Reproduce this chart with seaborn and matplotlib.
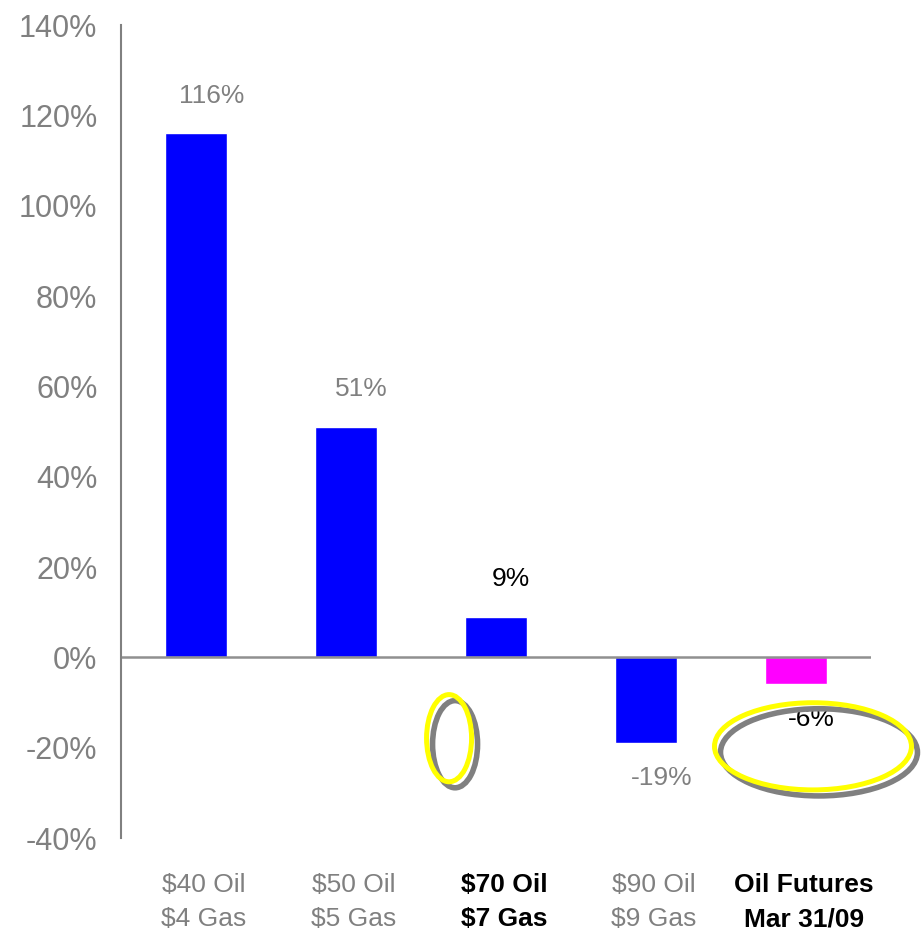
import numpy as np
import pandas as pd
import matplotlib
matplotlib.use("Agg")
import matplotlib.pyplot as plt
import matplotlib.transforms as mtransforms
from matplotlib.patches import Ellipse
import seaborn as sns

# data
line1 = ["$40 Oil", "$50 Oil", "$70 Oil", "$90 Oil", "Oil Futures"]
line2 = ["$4 Gas", "$5 Gas", "$7 Gas", "$9 Gas", "Mar 31/09"]
values = [116, 51, 9, -19, -6]
bar_colors = ["#0000FF", "#0000FF", "#0000FF", "#0000FF", "#FF00FF"]
highlight = [False, False, True, False, True]
yticks = [-40, -20, 0, 20, 40, 60, 80, 100, 120, 140]

categories = [a + "\n" + b for a, b in zip(line1, line2)]
df = pd.DataFrame({"scenario": categories, "change": values})

sns.set_style("white")
plt.rcParams["font.family"] = ["Liberation Sans", "DejaVu Sans"]

fig = plt.figure(figsize=(9.23, 9.33), dpi=100)
ax = fig.add_axes([0.1311, 0.1018, 0.8126, 0.8714])

sns.barplot(
    data=df,
    x="scenario",
    y="change",
    hue="scenario",
    palette=bar_colors,
    width=0.41,
    legend=False,
    saturation=1,
    ax=ax,
)

ax.set_xlim(-0.5, 4.5)
ax.set_ylim(-40, 140)
ax.set_yticks(yticks)
ax.set_yticklabels([f"{t}%" for t in yticks], fontsize=22, color="#808080")
ax.tick_params(axis="y", length=0, pad=17)
ax.tick_params(axis="x", length=0, pad=25)
ax.set_xlabel("")
ax.set_ylabel("")

# category labels sit a little right of the bar centres
shift = mtransforms.ScaledTranslation(8 / 100, 0, fig.dpi_scale_trans)
for lab, hl in zip(ax.get_xticklabels(), highlight):
    lab.set_fontsize(19)
    lab.set_linespacing(1.55)
    lab.set_transform(lab.get_transform() + shift)
    if hl:
        lab.set_fontweight("bold")
        lab.set_color("black")
    else:
        lab.set_color("#808080")

for s in ["top", "right", "bottom"]:
    ax.spines[s].set_visible(False)
ax.spines["left"].set_color("#808080")
ax.spines["left"].set_linewidth(1.5)
ax.axhline(0, color="#909090", lw=1.8, zorder=1)

# value labels
for i, (v, hl) in enumerate(zip(values, highlight)):
    off = 27 if v >= 0 else -25
    ax.annotate(
        f"{v}%",
        (i, v),
        xytext=(11, off),
        textcoords="offset points",
        ha="center",
        va="center",
        fontsize=19,
        color="black" if hl else "#808080",
        zorder=3,
    )

# highlight ellipses with drop shadow
ellipses = [(1.687, -17.9, 0.30, 19.3), (4.113, -19.7, 1.313, 19.3)]
shadow = mtransforms.offset_copy(ax.transData, fig=fig, x=6, y=-6, units="dots")
for cx, cy, w, h in ellipses:
    ax.add_patch(Ellipse((cx, cy), w, h, fill=False, edgecolor="#808080",
                         lw=4, transform=shadow, clip_on=False, zorder=4))
    ax.add_patch(Ellipse((cx, cy), w, h, fill=False, edgecolor="#FFFF00",
                         lw=3.6, clip_on=False, zorder=5))

fig.savefig("out.png", dpi=100)
